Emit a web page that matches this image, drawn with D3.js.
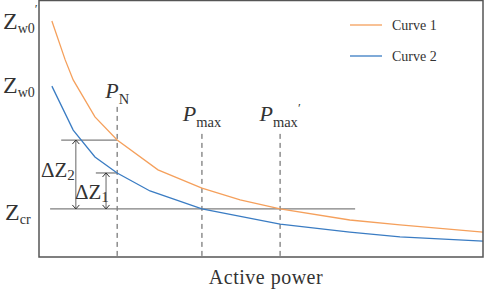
<!DOCTYPE html>
<html>
<head>
<meta charset="utf-8">
<script src="https://cdn.jsdelivr.net/npm/d3@7"></script>
<style>
  body { margin: 0; background: #fff; }
  text { font-family: "Liberation Serif", "Times New Roman", serif; fill: #333; }
</style>
</head>
<body>
<svg id="chart"></svg>
<script>
// Curve data (power, impedance in arbitrary units)
const curve1Power = [0.29, 0.59, 0.77, 1.26, 1.76, 2.68, 3.67, 4.53, 5.43, 7.00, 8.13, 10.0];
const curve1Z     = [9.18, 7.67, 6.89, 5.45, 4.55, 3.39, 2.68, 2.22, 1.87, 1.44, 1.25, 0.97];
const curve2Power = [0.29, 0.77, 1.26, 1.76, 2.50, 3.67, 5.43, 7.00, 8.13, 10.0];
const curve2Z     = [6.65, 4.94, 3.89, 3.27, 2.57, 1.87, 1.28, 0.97, 0.78, 0.62];

const seriesNames = ['Curve 1', 'Curve 2'];
const seriesColors = ['#f5a05c', '#3a7cc3'];

// marker values
const pN = 1.76, pMax = 3.67, pMaxP = 5.43;
const zW0p = 9.18, zW0 = 6.65, zCr = 1.87;
const zN1 = 3.27, zN2 = 4.55;

const width = 484, height = 290;
const margin = {top: 0, right: 1, bottom: 33, left: 39};
const w = width - margin.left - margin.right;
const h = height - margin.top - margin.bottom;

const svg = d3.select('#chart').attr('width', width).attr('height', height);
const g = svg.append('g').attr('transform', `translate(${margin.left},${margin.top})`);

const x = d3.scaleLinear().domain([0, 10]).range([0, w]);
const y = d3.scaleLinear().domain([0, 10]).range([h, 0]);

// arrow marker (open chevron)
svg.append('defs').append('marker')
    .attr('id', 'arr')
    .attr('viewBox', '-5 -5 10 10')
    .attr('markerWidth', 10).attr('markerHeight', 10)
    .attr('markerUnits', 'userSpaceOnUse')
    .attr('refX', 0).attr('refY', 0)
    .attr('orient', 'auto-start-reverse')
  .append('path')
    .attr('d', 'M-4,-3.5L0,0L-4,3.5')
    .attr('fill', 'none')
    .attr('stroke', '#333')
    .attr('stroke-width', 1);

// dashed verticals
const dashes = [[pN, 5.84], [pMax, 4.79], [pMaxP, 4.79]];
g.selectAll('.vdash').data(dashes).join('line')
    .attr('x1', d => x(d[0])).attr('x2', d => x(d[0]))
    .attr('y1', d => y(d[1])).attr('y2', h)
    .attr('stroke', '#555').attr('stroke-width', 1)
    .attr('stroke-dasharray', '5,4');

// horizontal reference lines
const hlines = [[0.25, 7.12, zCr], [0.5, pN, zN2], [1.28, pN, zN1]];
g.selectAll('.hline').data(hlines).join('line')
    .attr('x1', d => x(d[0])).attr('x2', d => x(d[1]))
    .attr('y1', d => y(d[2])).attr('y2', d => y(d[2]))
    .attr('stroke', '#7f7f7f').attr('stroke-width', 1.3);

// curves
const line = d3.line().x(d => x(d[0])).y(d => y(d[1]));
const curves = [d3.zip(curve1Power, curve1Z), d3.zip(curve2Power, curve2Z)];
g.selectAll('.curve').data(curves).join('path')
    .attr('d', line)
    .attr('fill', 'none')
    .attr('stroke', (d, i) => seriesColors[i])
    .attr('stroke-width', 1.3);

// double arrows for delta Z
const arrows = [[0.83, zN2], [1.51, zN1]];
g.selectAll('.darrow').data(arrows).join('line')
    .attr('x1', d => x(d[0])).attr('x2', d => x(d[0]))
    .attr('y1', d => y(d[1])).attr('y2', y(zCr))
    .attr('stroke', '#666').attr('stroke-width', 1)
    .attr('marker-start', 'url(#arr)')
    .attr('marker-end', 'url(#arr)');

// frame
g.append('rect')
    .attr('x', 0).attr('y', 0.5)
    .attr('width', w).attr('height', h - 0.5)
    .attr('fill', 'none').attr('stroke', '#555').attr('stroke-width', 1.5);

// helper for main + subscript labels
function label(px, py, main, sub, opts = {}) {
  const t = svg.append('text')
      .attr('x', px).attr('y', py)
      .attr('text-anchor', opts.anchor || 'start')
      .style('font-size', (opts.size || 24) + 'px');
  if (opts.delta) t.append('tspan').text('\u0394').style('font-style', 'normal');
  t.append('tspan').text(main).style('font-style', opts.italic ? 'italic' : 'normal');
  t.append('tspan').text(sub).attr('dy', opts.subDy || 4).style('font-size', (opts.subSize || 14) + 'px');
  if (opts.prime) t.append('tspan').text('\u2032').attr('dy', opts.primeDy || -18).style('font-size', '13px');
  return t;
}

// y labels
label(3, 29, 'Z', 'w0', {prime: true, primeDy: -20});
label(3, 93, 'Z', 'w0');
label(5, 220, 'Z', 'cr');

// delta labels
label(41, 177, 'Z', '2', {delta: true, size: 21, subSize: 15, subDy: 3});
label(75, 199, 'Z', '1', {delta: true, size: 21, subSize: 15, subDy: 3});

// P labels
const pOpts = {italic: true, anchor: 'middle', size: 22, subSize: 14.5, subDy: 6};
label(margin.left + x(pN), y(5.84) - 9, 'P', 'N', pOpts);
label(margin.left + x(pMax), y(4.79) - 13, 'P', 'max', pOpts);
label(margin.left + x(pMaxP), y(4.79) - 13, 'P', 'max', {...pOpts, prime: true, primeDy: -15});

// x axis title
svg.append('text')
    .attr('x', 266).attr('y', 284)
    .attr('text-anchor', 'middle')
    .style('font-size', '20px')
    .style('letter-spacing', '0.5px')
    .text('Active power');

// legend
const legend = svg.append('g').attr('transform', 'translate(350,25)');
const items = legend.selectAll('g').data(seriesNames).join('g')
    .attr('transform', (d, i) => `translate(0,${i * 31})`);
items.append('line')
    .attr('x1', 0).attr('x2', 32)
    .attr('stroke', (d, i) => seriesColors[i]).attr('stroke-width', 1.3);
items.append('text')
    .attr('x', 42).attr('y', 5)
    .style('font-size', '14px')
    .text(d => d);
</script>
</body>
</html>
